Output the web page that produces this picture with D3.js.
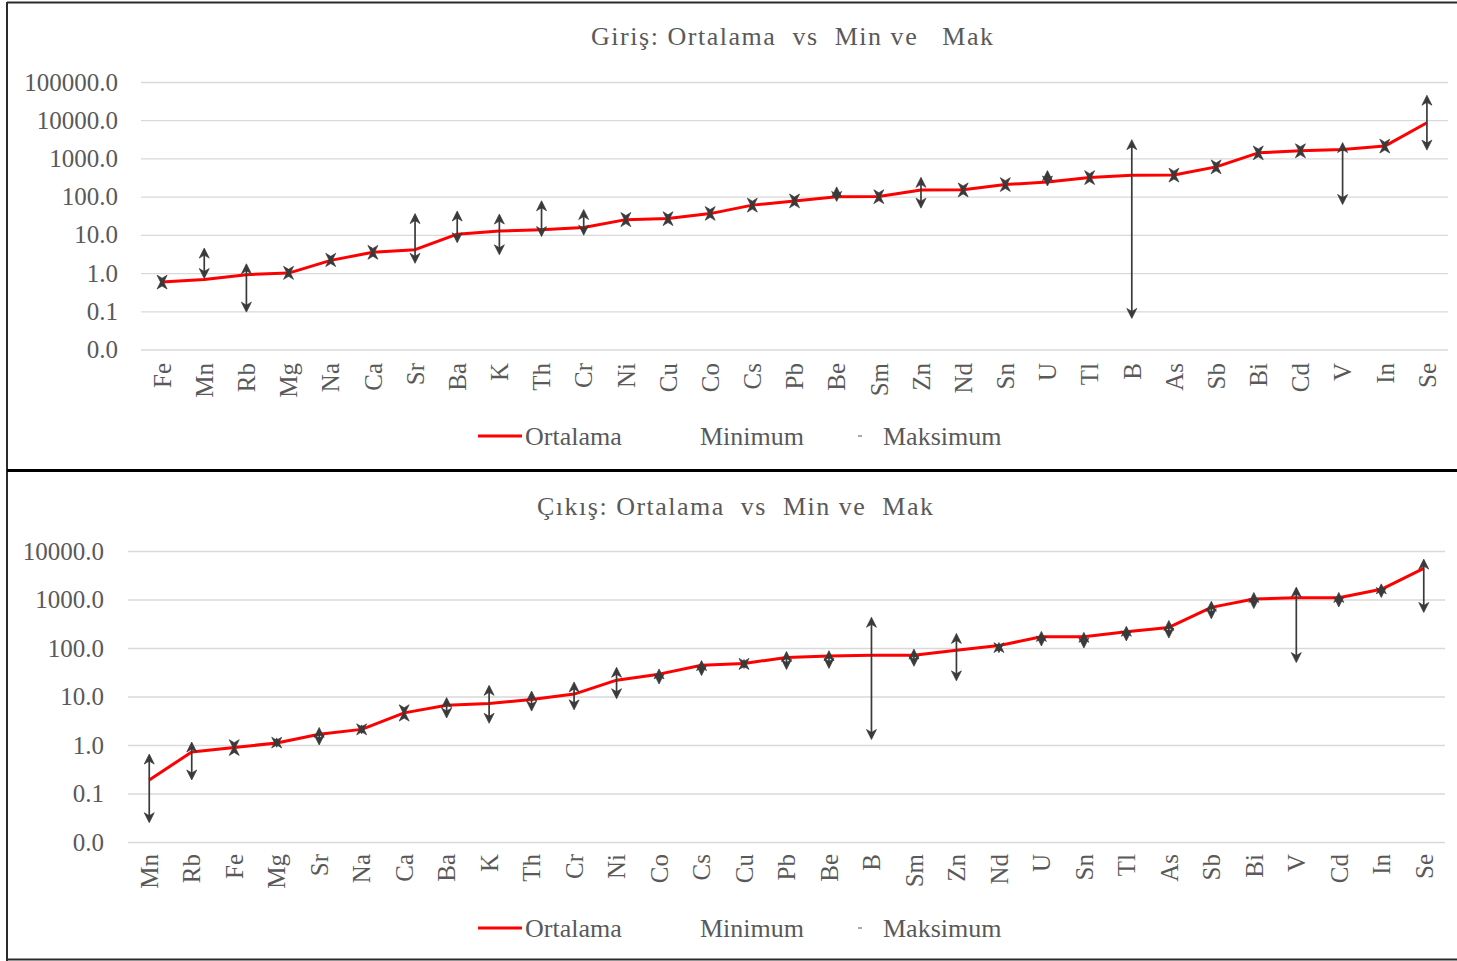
<!DOCTYPE html>
<html>
<head>
<meta charset="utf-8">
<script src="https://cdn.jsdelivr.net/npm/d3@7"></script>
<style>
    body { margin: 0; background: #fff; }
    svg text { font-family: "Liberation Serif", "Times New Roman", serif; fill: #595959; }
</style>
</head>
<body>
<div id="chart"></div>
<script>
// Giriş (top panel)
const girisCats = ['Fe','Mn','Rb','Mg','Na','Ca','Sr','Ba','K','Th','Cr','Ni','Cu','Co','Cs','Pb','Be','Sm','Zn','Nd','Sn','U','Tl','B','As','Sb','Bi','Cd','V','In','Se'];
const girisMean = [0.58,0.68,0.91,1.0,2.15,3.5,4.1,10.4,12.6,13.7,15.5,25,26.7,36,60,77,100,101,150,152,207,243,316,365,368,602,1400,1585,1720,2100,8600];
const girisMin  = [0.48,0.72,0.095,0.82,1.8,2.9,1.8,6.2,3.0,9.0,9.8,21,22,30,50,64,75,83,50,125,172,190,262,0.065,305,500,1160,1320,62,1750,1650];
const girisMax  = [0.70,4.5,1.75,1.25,2.7,4.2,36,42,35,78,46,30,32,44,72,93,180,120,320,180,250,480,380,3100,440,725,1690,1900,2600,2530,45000];
const girisTicks = [0.01,0.1,1,10,100,1000,10000,100000];

// Çıkış (bottom panel)
const cikisCats = ['Mn','Rb','Fe','Mg','Sr','Na','Ca','Ba','K','Th','Cr','Ni','Co','Cs','Cu','Pb','Be','B','Sm','Zn','Nd','U','Sn','Tl','As','Sb','Bi','V','Cd','In','Se'];
const cikisMean = [0.19,0.72,0.89,1.1,1.67,2.1,4.6,6.6,7.2,8.7,11.2,21.7,28.9,44,48,64,68,71,71,90,112,171,171,216,266,688,1020,1090,1090,1620,4390];
const cikisMin  = [0.025,0.19,0.8,0.9,1.0,1.7,4.2,3.6,2.8,5.0,5.3,9.0,18,27,38,36,38,1.3,42,21,80,110,100,140,160,400,650,50,700,1100,540];
const cikisMax  = [0.65,1.15,0.98,1.4,2.3,2.6,5.0,9.5,17,13,20,40,37,55,58,85,88,430,95,200,130,220,210,280,370,920,1400,1800,1400,2100,6800];
const cikisTicks = [0.01,0.1,1,10,100,1000,10000];

const legendNames = ['Ortalama', 'Minimum', 'Maksimum'];

class MinMaxChart {
    constructor(svg, opts) {
        this.svg = svg;
        this.o = opts;
    }

    draw() {
        const o = this.o;
        const g = this.svg.append('g');

        const x = d3.scaleBand().domain(o.cats).range(o.xRange);
        const y = d3.scaleLog().domain(o.yDomain).range(o.yRange);
        const cx = d => x(d) + x.bandwidth() / 2;

        // title
        g.append('text')
            .attr('x', o.titleX)
            .attr('y', o.titleY)
            .attr('text-anchor', 'middle')
            .attr('font-size', 26)
            .attr('textLength', o.titleWidth)
            .attr('lengthAdjust', 'spacing')
            .style('white-space', 'pre')
            .text(o.title);

        // gridlines + y labels
        const yAxis = d3.axisLeft(y)
            .tickValues(o.ticks)
            .tickFormat(d3.format('.1f'))
            .tickSize(-(o.xRange[1] - o.xRange[0]))
            .tickPadding(o.xRange[0] - o.tickRight);
        const ya = g.append('g')
            .attr('transform', `translate(${o.xRange[0]},0)`)
            .call(yAxis);
        ya.select('.domain').remove();
        ya.selectAll('.tick line').attr('stroke', '#d9d9d9').attr('stroke-width', 1.3);
        ya.selectAll('.tick text')
            .attr('font-size', 25)
            .attr('fill', '#595959')
            .attr('font-family', '"Liberation Serif", serif');

        // category labels, rotated
        g.append('g').selectAll('text')
            .data(o.cats)
            .enter()
            .append('text')
            .attr('transform', d => `translate(${cx(d)},${o.labelY}) rotate(-90)`)
            .attr('text-anchor', 'end')
            .attr('dy', '0.35em')
            .attr('font-size', 25)
            .text(d => d);

        // mean line
        const line = d3.line()
            .x((d, i) => cx(o.cats[i]))
            .y(d => y(d));
        g.append('path')
            .datum(o.mean)
            .attr('fill', 'none')
            .attr('stroke', '#ff0000')
            .attr('stroke-width', 3)
            .attr('stroke-linejoin', 'round')
            .attr('d', line);

        // min-max arrows
        const bars = g.append('g').selectAll('g')
            .data(o.cats.map((c, i) => ({ c, lo: o.min[i], hi: o.max[i] })))
            .enter()
            .append('g')
            .attr('fill', '#3a3a3a')
            .attr('stroke', '#3a3a3a');
        bars.append('line')
            .attr('x1', d => cx(d.c)).attr('x2', d => cx(d.c))
            .attr('y1', d => y(d.hi) + 3).attr('y2', d => y(d.lo) - 3)
            .attr('stroke-width', 1.7);
        bars.append('path')
            .attr('stroke-width', 0.7)
            .attr('d', d => {
                const px = cx(d.c), py = y(d.hi);
                return `M${px},${py}L${px + 5},${py + 10}L${px},${py + 7}L${px - 5},${py + 10}Z`;
            });
        bars.append('path')
            .attr('stroke-width', 0.7)
            .attr('d', d => {
                const px = cx(d.c), py = y(d.lo);
                return `M${px},${py}L${px + 5},${py - 10}L${px},${py - 7}L${px - 5},${py - 10}Z`;
            });

        // legend
        const lg = g.append('g');
        lg.append('line')
            .attr('x1', 478).attr('x2', 522)
            .attr('y1', o.legendY).attr('y2', o.legendY)
            .attr('stroke', '#ff0000').attr('stroke-width', 3);
        lg.append('line')
            .attr('x1', 858).attr('x2', 862)
            .attr('y1', o.legendY).attr('y2', o.legendY)
            .attr('stroke', '#8c8c8c').attr('stroke-width', 1.5);
        const lx = [525, 700, 883];
        lg.selectAll('text')
            .data(legendNames)
            .enter()
            .append('text')
            .attr('x', (d, i) => lx[i])
            .attr('y', o.legendY)
            .attr('dy', '0.33em')
            .attr('font-size', 26)
            .text(d => d);
    }
}

const svg = d3.select('#chart')
    .append('svg')
    .attr('width', 1457)
    .attr('height', 961);

svg.append('rect').attr('width', 1457).attr('height', 961).attr('fill', '#fff');

new MinMaxChart(svg, {
    cats: girisCats, mean: girisMean, min: girisMin, max: girisMax, ticks: girisTicks,
    title: 'Giriş: Ortalama  vs  Min ve   Mak', titleX: 792, titleY: 45, titleWidth: 402,
    xRange: [141, 1448], yDomain: [0.01, 100000], yRange: [349.5, 82],
    tickRight: 118, labelY: 363, legendY: 436
}).draw();

new MinMaxChart(svg, {
    cats: cikisCats, mean: cikisMean, min: cikisMin, max: cikisMax, ticks: cikisTicks,
    title: 'Çıkış: Ortalama  vs  Min ve  Mak', titleX: 735, titleY: 515, titleWidth: 396,
    xRange: [128, 1445], yDomain: [0.01, 10000], yRange: [842, 551],
    tickRight: 104, labelY: 854, legendY: 928
}).draw();

// panel frames
const frame = svg.append('g').attr('stroke', '#2b2b2b').attr('fill', 'none');
frame.append('line').attr('x1', 7).attr('x2', 1457).attr('y1', 2.5).attr('y2', 2.5).attr('stroke-width', 2);
frame.append('line').attr('x1', 7).attr('x2', 7).attr('y1', 2).attr('y2', 961).attr('stroke-width', 2);
frame.append('line').attr('x1', 7).attr('x2', 1457).attr('y1', 470.5).attr('y2', 470.5).attr('stroke-width', 3).attr('stroke', '#000');
frame.append('line').attr('x1', 7).attr('x2', 1457).attr('y1', 959.5).attr('y2', 959.5).attr('stroke-width', 2);
</script>
</body>
</html>
